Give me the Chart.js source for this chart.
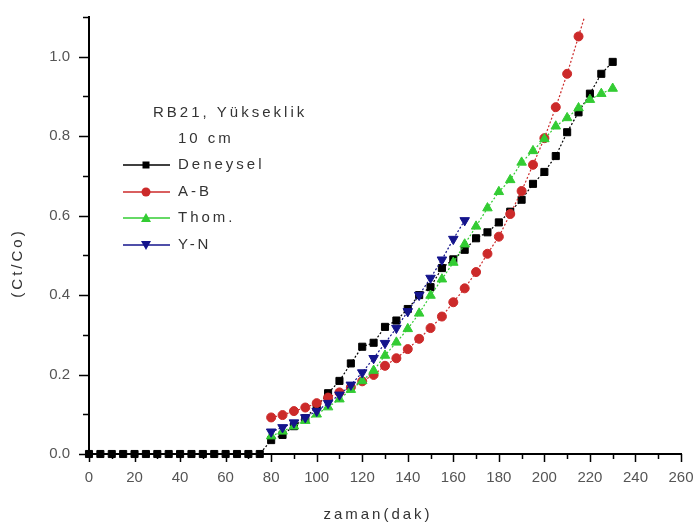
<!DOCTYPE html>
<html>
<head>
<meta charset="utf-8">
<script src="https://cdn.jsdelivr.net/npm/chart.js@4/dist/chart.umd.min.js"></script>
<style>
  html, body { margin: 0; padding: 0; background: #fff; }
</style>
</head>
<body>
<canvas id="chart" width="698" height="530"></canvas>
<script>
// values
const denTime = [0, 5, 10, 15, 20, 25, 30, 35, 40, 45, 50, 55, 60, 65, 70, 75,
  80, 85, 90, 95, 100, 105, 110, 115, 120, 125, 130, 135, 140, 145, 150, 155,
  160, 165, 170, 175, 180, 185, 190, 195, 200, 205, 210, 215, 220, 225, 230];
const denValues = [0, 0, 0, 0, 0, 0, 0, 0, 0, 0, 0, 0, 0, 0, 0, 0,
  0.035, 0.048, 0.07, 0.09, 0.12, 0.153, 0.184, 0.228, 0.27, 0.28, 0.32, 0.336,
  0.365, 0.40, 0.42, 0.468, 0.49, 0.514, 0.543, 0.558, 0.583, 0.61, 0.64, 0.68,
  0.71, 0.75, 0.81, 0.86, 0.907, 0.957, 0.987];

const abTime = [80, 85, 90, 95, 100, 105, 110, 115, 120, 125, 130, 135, 140, 145,
  150, 155, 160, 165, 170, 175, 180, 185, 190, 195, 200, 205, 210, 215, 220];
const abValues = [0.092, 0.098, 0.108, 0.117, 0.128, 0.142, 0.155, 0.168, 0.183,
  0.199, 0.222, 0.241, 0.264, 0.29, 0.317, 0.346, 0.382, 0.417, 0.458, 0.504,
  0.547, 0.604, 0.662, 0.728, 0.795, 0.873, 0.957, 1.051, 1.145];

const thomTime = [80, 85, 90, 95, 100, 105, 110, 115, 120, 125, 130, 135, 140, 145,
  150, 155, 160, 165, 170, 175, 180, 185, 190, 195, 200, 205, 210, 215, 220, 225, 230];
const thomValues = [0.045, 0.057, 0.07, 0.084, 0.1, 0.118, 0.138, 0.162, 0.184,
  0.21, 0.248, 0.281, 0.315, 0.354, 0.399, 0.44, 0.482, 0.528, 0.573, 0.619,
  0.66, 0.69, 0.734, 0.763, 0.793, 0.825, 0.846, 0.871, 0.892, 0.907, 0.92];

const ynTime = [80, 85, 90, 95, 100, 105, 110, 115, 120, 125, 130, 135, 140, 145,
  150, 155, 160, 165];
const ynValues = [0.056, 0.067, 0.079, 0.092, 0.108, 0.128, 0.149, 0.174, 0.205,
  0.241, 0.279, 0.317, 0.359, 0.40, 0.443, 0.489, 0.541, 0.588];

const xTickLabels = [0, 20, 40, 60, 80, 100, 120, 140, 160, 180, 200, 220, 240, 260];
const yTickLabels = ["0.0", "0.2", "0.4", "0.6", "0.8", "1.0"];

const legendTitle = ["RB21, Yükseklik", "10 cm"];
const seriesNames = ["Deneysel", "A-B", "Thom.", "Y-N"];
const colors = ["#000000", "#cc2a2a", "#33cc33", "#14148c"];

const toPoints = (xs, ys) => xs.map((x, i) => ({ x: x, y: ys[i] }));

const fontFamily = "'Liberation Sans', Arial, sans-serif";

// axis ticks, titles and the in-plot legend
const decor = {
  id: "decor",
  afterDraw(chart) {
    const { ctx, chartArea: a, scales } = chart;
    const x = scales.x, y = scales.y;
    ctx.save();
    ctx.strokeStyle = "#000";
    ctx.lineWidth = 1.5;
    ctx.beginPath();
    for (let v = 0; v <= 260; v += 10) {
      const px = Math.round(x.getPixelForValue(v)) + 0.5;
      const len = v % 20 === 0 ? 8 : 5;
      ctx.moveTo(px, a.bottom);
      ctx.lineTo(px, a.bottom + len);
    }
    for (let i = 0; i <= 11; i++) {
      const py = Math.round(y.getPixelForValue(i / 10)) + 0.5;
      const len = i % 2 === 0 ? 10 : 6;
      ctx.moveTo(a.left - len, py);
      ctx.lineTo(a.left, py);
    }
    ctx.stroke();

    // axis titles
    ctx.fillStyle = "#333";
    ctx.font = "15px " + fontFamily;
    ctx.letterSpacing = "3px";
    ctx.textAlign = "center";
    ctx.textBaseline = "middle";
    ctx.fillText("zaman(dak)", 378, 515);
    ctx.save();
    ctx.translate(18, 263);
    ctx.rotate(-Math.PI / 2);
    ctx.fillText("(Ct/Co)", 0, 0);
    ctx.restore();

    // legend
    ctx.textAlign = "left";
    ctx.fillText(legendTitle[0], 153, 113);
    ctx.fillText(legendTitle[1], 178, 139);
    const rows = [165, 192, 218, 245];
    seriesNames.forEach((name, i) => {
      const ly = rows[i];
      ctx.strokeStyle = colors[i];
      ctx.lineWidth = 1.5;
      ctx.beginPath();
      ctx.moveTo(123, ly);
      ctx.lineTo(170, ly);
      ctx.stroke();
      ctx.fillStyle = colors[i];
      ctx.beginPath();
      if (i === 0) {
        ctx.rect(142.5, ly - 3.5, 7, 7);
      } else if (i === 1) {
        ctx.arc(146, ly, 4.5, 0, Math.PI * 2);
      } else if (i === 2) {
        ctx.moveTo(146, ly - 5);
        ctx.lineTo(151, ly + 4);
        ctx.lineTo(141, ly + 4);
      } else {
        ctx.moveTo(146, ly + 5);
        ctx.lineTo(151, ly - 4);
        ctx.lineTo(141, ly - 4);
      }
      ctx.closePath();
      ctx.fill();
      ctx.fillStyle = "#333";
      ctx.fillText(name, 178, ly);
    });
    ctx.restore();
  },
};

const line = (label, data, color, style, radius, order, extra) => Object.assign({
  label: label,
  data: data,
  borderColor: color,
  backgroundColor: color,
  borderWidth: 1.2,
  borderDash: [2, 2],
  pointStyle: style,
  pointRadius: radius,
  pointBorderWidth: 1,
  pointHoverRadius: radius,
  order: order,
  clip: false,
}, extra || {});

const chart = new Chart(document.getElementById("chart"), {
  type: "scatter",
  data: {
    datasets: [
      line(seriesNames[0], toPoints(denTime, denValues), colors[0], "rect", 5, 4),
      line(seriesNames[1], toPoints(abTime, abValues), colors[1], "circle", 4.5, 3, {
        pointRadius: abTime.map((t, i) => (i === abTime.length - 1 ? 0 : 4.5)),
        clip: { left: false, top: 0, right: false, bottom: false },
      }),
      line(seriesNames[2], toPoints(thomTime, thomValues), colors[2], "triangle", 5.5, 2),
      line(seriesNames[3], toPoints(ynTime, ynValues), colors[3], "triangle", 5.5, 1, {
        pointRotation: 180,
      }),
    ],
  },
  options: {
    responsive: false,
    animation: false,
    devicePixelRatio: 1,
    showLine: true,
    layout: { padding: { left: 0, right: 17, top: 17, bottom: 0 } },
    plugins: {
      legend: { display: false },
      tooltip: { enabled: false },
    },
    scales: {
      x: {
        type: "linear",
        min: 0,
        max: 260,
        afterFit: (s) => {
          s.height = 76;
          s.paddingLeft = 0;
          s.paddingRight = 0;
        },
        afterBuildTicks: (s) => { s.ticks = xTickLabels.map((v) => ({ value: v })); },
        grid: { display: false },
        border: { display: true, color: "#000", width: 2 },
        ticks: {
          padding: 7,
          color: "#555",
          font: { family: fontFamily, size: 15 },
          maxRotation: 0,
          autoSkip: false,
        },
      },
      y: {
        min: 0,
        max: 1.1,
        afterFit: (s) => {
          s.width = 89;
          s.paddingTop = 0;
          s.paddingBottom = 0;
        },
        afterBuildTicks: (s) => { s.ticks = yTickLabels.map((v) => ({ value: parseFloat(v) })); },
        grid: { display: false },
        border: { display: true, color: "#000", width: 2 },
        ticks: {
          padding: 11,
          color: "#555",
          font: { family: fontFamily, size: 15 },
          callback: (v) => v.toFixed(1),
        },
      },
    },
  },
  plugins: [decor],
});
</script>
</body>
</html>
